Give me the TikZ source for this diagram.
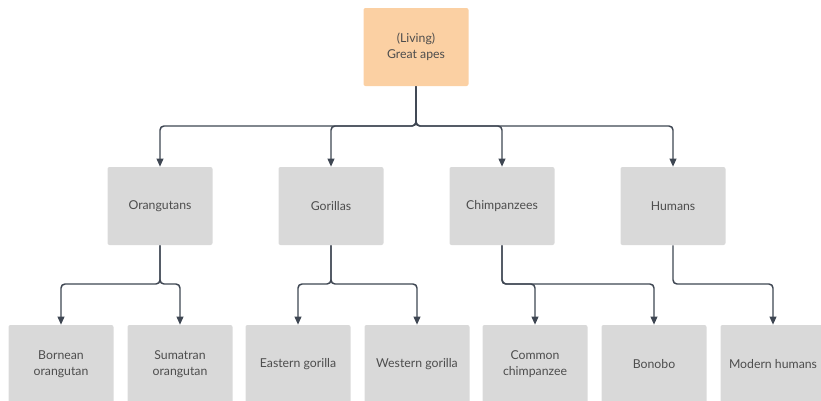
\documentclass[tikz,border=0pt]{standalone}
\usepackage{fontspec}
\setmainfont{Lato}
\usetikzlibrary{arrows.meta}
\definecolor{apefill}{HTML}{FBD0A3}
\definecolor{boxfill}{HTML}{D9D9D9}
\definecolor{linkcol}{HTML}{3E4652}
\definecolor{txtcol}{HTML}{4D4D4D}
\tikzset{
  taxon/.style={fill=boxfill, minimum width=78.75pt, minimum height=58.5pt,
    rounded corners=1.5pt, align=center, text=txtcol,
    font=\fontsize{9.2}{12}\selectfont, inner sep=0pt},
  link/.style={draw=linkcol, line width=1.1pt, rounded corners=3pt,
    -{Triangle[length=6pt,width=5pt]}}
}
\begin{document}
\begin{tikzpicture}[x=0.75pt,y=-0.75pt]
\useasboundingbox (0,0) rectangle (821,400);
\node[taxon, fill=apefill] (apes) at (416,47) {(Living)\\Great apes};
\node[taxon] (orang) at (160,206) {Orangutans};
\node[taxon] (gor) at (331,206) {Gorillas};
\node[taxon] (chimp) at (502,206) {Chimpanzees};
\node[taxon] (hum) at (673,206) {Humans};
\node[taxon] (born) at (61,364) {Bornean\\orangutan};
\node[taxon] (suma) at (180,364) {Sumatran\\orangutan};
\node[taxon] (east) at (298,364) {Eastern gorilla};
\node[taxon] (west) at (417,364) {Western gorilla};
\node[taxon] (common) at (535,364) {Common\\chimpanzee};
\node[taxon] (bonobo) at (654,364) {Bonobo};
\node[taxon] (modern) at (773,364) {Modern humans};
\coordinate (top) at (416,126);
\coordinate (jorang) at (160,284);
\coordinate (jgor) at (331,284);
\coordinate (jchimp) at (502,284);
\coordinate (jhum) at (673,284);
\draw[link] (apes) -- (top) -| (orang);
\draw[link] (apes) -- (top) -| (gor);
\draw[link] (apes) -- (top) -| (chimp);
\draw[link] (apes) -- (top) -| (hum);
\draw[link] (orang) -- (jorang) -| (born);
\draw[link] (orang) -- (jorang) -| (suma);
\draw[link] (gor) -- (jgor) -| (east);
\draw[link] (gor) -- (jgor) -| (west);
\draw[link] (chimp) -- (jchimp) -| (common);
\draw[link] (chimp) -- (jchimp) -| (bonobo);
\draw[link] (hum) -- (jhum) -| (modern);
\end{tikzpicture}
\end{document}
